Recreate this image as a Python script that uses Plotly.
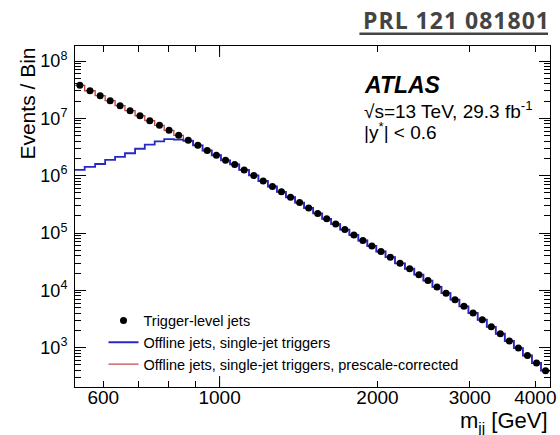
import numpy as np
import plotly.graph_objects as go

# Dijet invariant-mass binning (GeV), 51 bins
bin_edges = [530, 553, 579, 605, 632, 660, 690, 720, 752, 784, 818, 853, 890,
             928, 966, 1006, 1047, 1090, 1138, 1186, 1236, 1286, 1338, 1393,
             1449, 1508, 1569, 1632, 1698, 1768, 1839, 1913, 1990, 2072, 2160,
             2256, 2351, 2447, 2546, 2649, 2756, 2866, 2982, 3105, 3232, 3362,
             3498, 3640, 3787, 3941, 4101, 4266]

# Events per bin, trigger-level jets
trigger_level = [3.77e7, 3.03e7, 2.48e7, 2.03e7, 1.66e7, 1.36e7, 1.11e7, 9.09e6,
                 7.56e6, 6.19e6, 5.06e6, 4.14e6, 3.39e6, 2.75e6, 2.27e6, 1.85e6,
                 1.57e6, 1.26e6, 1.01e6, 8.08e5, 6.48e5, 5.24e5, 4.21e5, 3.39e5,
                 2.73e5, 2.20e5, 1.77e5, 1.43e5, 1.15e5, 9.24e4, 7.41e4, 5.94e4,
                 4.76e4, 3.79e4, 2.96e4, 2.38e4, 1.88e4, 1.48e4, 1.15e4, 8.92e3,
                 6.87e3, 5.27e3, 4.03e3, 3.07e3, 2.31e3, 1.75e3, 1.31e3, 984,
                 731, 541, 397]

# Offline jets, single-jet triggers (no prescale correction)
offline_single = [1.26e6, 1.42e6, 1.60e6, 1.88e6, 2.12e6, 2.46e6, 2.95e6, 3.47e6,
                  3.98e6, 4.33e6, 4.26e6, 4.03e6, 3.39e6, 2.75e6, 2.27e6, 1.85e6,
                  1.57e6, 1.26e6, 1.01e6, 8.08e5, 6.48e5, 5.24e5, 4.21e5, 3.39e5,
                  2.73e5, 2.20e5, 1.77e5, 1.43e5, 1.15e5, 9.24e4, 7.41e4, 5.94e4,
                  4.76e4, 3.79e4, 2.96e4, 2.38e4, 1.88e4, 1.48e4, 1.15e4, 8.92e3,
                  6.87e3, 5.27e3, 4.03e3, 3.07e3, 2.31e3, 1.75e3, 1.31e3, 984,
                  731, 541, 397]

# Offline jets, single-jet triggers, prescale-corrected
offline_corrected = [3.77e7, 3.03e7, 2.48e7, 2.03e7, 1.66e7, 1.36e7, 1.11e7, 9.09e6,
                     7.56e6, 6.19e6, 5.06e6, 4.14e6, 3.39e6, 2.75e6, 2.27e6, 1.85e6,
                     1.57e6, 1.26e6, 1.01e6, 8.08e5, 6.48e5, 5.24e5, 4.21e5, 3.39e5,
                     2.73e5, 2.20e5, 1.77e5, 1.43e5, 1.15e5, 9.24e4, 7.41e4, 5.94e4,
                     4.76e4, 3.79e4, 2.96e4, 2.38e4, 1.88e4, 1.48e4, 1.15e4, 8.92e3,
                     6.87e3, 5.27e3, 4.03e3, 3.07e3, 2.31e3, 1.75e3, 1.31e3, 984,
                     731, 541, 397]

x_tick_vals = [600, 1000, 2000, 3000, 4000]
x_tick_text = ["600", "1000", "2000", "3000", "4000"]
y_tick_vals = [1e3, 1e4, 1e5, 1e6, 1e7, 1e8]
y_tick_text = ["10<sup>3</sup>", "10<sup>4</sup>", "10<sup>5</sup>",
               "10<sup>6</sup>", "10<sup>7</sup>", "10<sup>8</sup>"]

FONT = "Liberation Sans, Arial, Helvetica, sans-serif"

edges = np.array(bin_edges, dtype=float)
centers = 0.5 * (edges[:-1] + edges[1:])


def step_xy(values):
    # histogram outline: each bin drawn flat between its edges
    return edges, list(values) + [values[-1]]


fig = go.Figure()

sx, sy = step_xy(offline_corrected)
fig.add_trace(go.Scatter(
    x=sx, y=sy, mode="lines", line=dict(color="#c04848", width=1.3, shape="hv"),
    name="Offline jets, single-jet triggers, prescale-corrected", legendrank=3))

sx, sy = step_xy(offline_single)
fig.add_trace(go.Scatter(
    x=sx, y=sy, mode="lines", line=dict(color="#2828c8", width=1.8, shape="hv"),
    name="Offline jets, single-jet triggers", legendrank=2))

fig.add_trace(go.Scatter(
    x=centers, y=trigger_level, mode="markers",
    marker=dict(color="black", size=7, symbol="circle"),
    name="Trigger-level jets", legendrank=1))

x_minor = [700, 800, 900]
y_minor = [m * 10.0 ** k for k in range(2, 9) for m in range(2, 10)]

fig.update_xaxes(
    type="log", range=[np.log10(edges[0]), np.log10(edges[-1])],
    tickmode="array", tickvals=x_tick_vals, ticktext=x_tick_text,
    ticks="inside", ticklen=6, tickwidth=1, tickcolor="black",
    minor=dict(tickmode="array", tickvals=x_minor, ticks="inside",
               ticklen=6, tickwidth=1, tickcolor="black", showgrid=False),
    showline=True, linecolor="black", linewidth=1, mirror="allticks",
    showgrid=False, zeroline=False, ticklabeloverflow="allow",
    ticklabelstandoff=-7,
    tickfont=dict(family=FONT, size=19, color="black"))

fig.update_yaxes(
    type="log", range=[2.3147, 8.2616],
    tickmode="array", tickvals=y_tick_vals, ticktext=y_tick_text,
    ticks="inside", ticklen=11, tickwidth=1, tickcolor="black",
    minor=dict(tickmode="array", tickvals=y_minor, ticks="inside",
               ticklen=6, tickwidth=1, tickcolor="black", showgrid=False),
    showline=True, linecolor="black", linewidth=1, mirror="allticks",
    showgrid=False, zeroline=False, ticklabelstandoff=3,
    tickfont=dict(family=FONT, size=18, color="black"))

# longer major tick at 1000 GeV on the bottom and top frame edges
for y0, y1, yanchor in [(0, 11, 0), (0, -11, 1)]:
    fig.add_shape(type="line", xref="x", yref="paper", x0=1000, x1=1000,
                  ysizemode="pixel", yanchor=yanchor, y0=y0, y1=y1,
                  line=dict(color="black", width=1))

annotations = [
    dict(text="<b><i>ATLAS</i></b>", x=0.604, y=0.886, xanchor="left",
         yanchor="middle", font=dict(family=FONT, size=23, color="black")),
    dict(text="\u221as=13 TeV, 29.3 fb<sup>-1</sup>", x=0.605, y=0.813,
         xanchor="left", yanchor="middle",
         font=dict(family=FONT, size=19, color="black")),
    dict(text="|y<sup>*</sup>| < 0.6", x=0.605, y=0.750, xanchor="left",
         yanchor="middle", font=dict(family=FONT, size=19, color="black")),
    dict(text="Events / Bin", x=-0.0998, y=0.83, xanchor="center",
         yanchor="middle", textangle=-90,
         font=dict(family=FONT, size=21, color="black")),
    dict(text="m<sub>jj</sub> [GeV]", x=1.0, y=-0.104, xanchor="right",
         yanchor="middle", font=dict(family=FONT, size=22, color="black")),
    dict(text="<b><span style='letter-spacing:1px'>PRL 121 081801</span></b>",
         x=1.004, y=1.076, xanchor="right", yanchor="middle",
         font=dict(family="Open Sans, Lato, sans-serif", size=23,
                   color="#444444")),
]
for a in annotations:
    fig.add_annotation(xref="paper", yref="paper", showarrow=False, **a)

fig.add_shape(type="line", xref="paper", yref="paper", x0=0.5988, x1=0.9958,
              y0=1.0361, y1=1.0361, line=dict(color="#444444", width=2.5))

fig.update_layout(
    width=560, height=435,
    margin=dict(l=75, r=4, t=46, b=48),
    paper_bgcolor="white", plot_bgcolor="white",
    showlegend=True,
    legend=dict(x=0.060, y=0.242, xanchor="left", yanchor="top",
                bgcolor="rgba(0,0,0,0)", borderwidth=0,
                font=dict(family=FONT, size=14.5, color="black"),
                itemwidth=30, tracegroupgap=0),
)

fig.write_html("out.html")
